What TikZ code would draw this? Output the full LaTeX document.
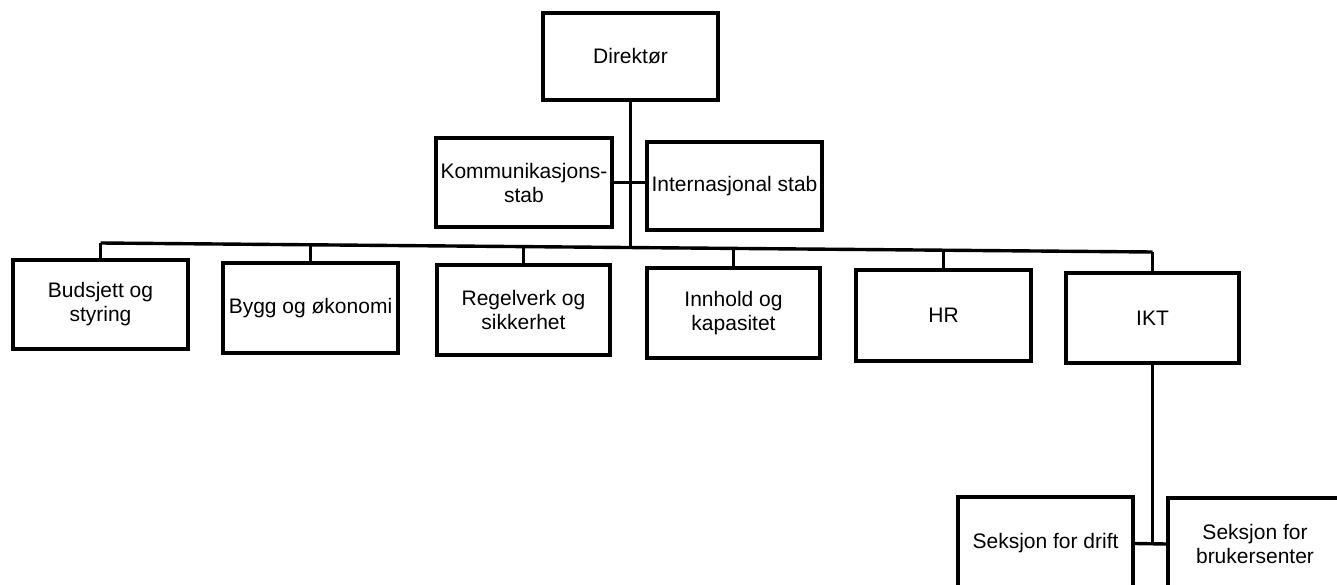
\documentclass[tikz,border=0pt]{standalone}
\usepackage{fontspec}
\setmainfont{Liberation Sans}
\begin{document}
\begin{tikzpicture}[x=1pt,y=-1pt,
  box/.style={draw=black,line width=3.4pt,fill=white,inner sep=0pt,align=center,
    font=\fontsize{21}{24}\selectfont},
  link/.style={draw=black,line width=3.4pt}]
\useasboundingbox (0,0) rectangle (1337,585);
\clip (0,0) rectangle (1337,585);
% top level
\node[box,minimum width=175pt,minimum height=87pt] (dir) at (630.5,56.5) {Direktør};
\node[box,minimum width=176pt,minimum height=89pt] (komm) at (524,182.5) {Kommunikasjons-\\stab};
\node[box,minimum width=175pt,minimum height=88pt] (intl) at (734.5,186) {Internasjonal stab};
% second level
\node[box,minimum width=175pt,minimum height=89pt] (bud) at (100.5,304.5) {Budsjett og\\styring};
\node[box,minimum width=175pt,minimum height=90pt] (bygg) at (310.5,308) {Bygg og økonomi};
\node[box,minimum width=173pt,minimum height=90pt] (reg) at (523.5,310) {Regelverk og\\sikkerhet};
\node[box,minimum width=173pt,minimum height=90pt] (inn) at (733.5,313) {Innhold og\\kapasitet};
\node[box,minimum width=175pt,minimum height=91pt] (hr) at (943.5,315.5) {HR};
\node[box,minimum width=173pt,minimum height=90pt] (ikt) at (1152.5,318) {IKT};
% third level
\node[box,minimum width=175pt,minimum height=93pt] (drift) at (1045.5,543.5) {Seksjon for drift};
\node[box,minimum width=174pt,minimum height=92pt] (bruk) at (1255,544) {Seksjon for\\brukersenter};
% bus
\coordinate (jL) at (100.5,243);
\coordinate (jR) at (1152.5,252);
\coordinate (jD) at (630.5,247.5);
\draw[link] (jL) -- (jR);
\draw[link] (dir.south) -- (jD);
\draw[link] (komm.east) -- (komm.east -| intl.west);
\draw[link] (bud.north) -- (jL);
\draw[link] (bygg.north) -- (bygg.north |- 0,244.8);
\draw[link] (reg.north) -- (reg.north |- 0,246.6);
\draw[link] (inn.north) -- (inn.north |- 0,248.4);
\draw[link] (hr.north) -- (hr.north |- 0,250.2);
\draw[link] (ikt.north) -- (jR);
% IKT sections
\coordinate (jS) at (1152.5,543.5);
\draw[link] (ikt.south) -- (jS);
\draw[link] (drift.east) -- (bruk.west);
\end{tikzpicture}
\end{document}
